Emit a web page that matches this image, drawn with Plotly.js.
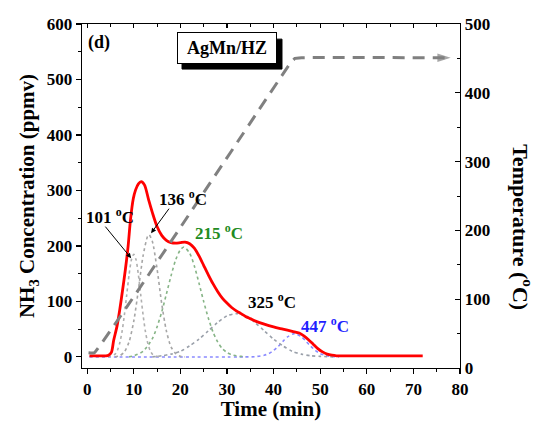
<!DOCTYPE html>
<html>
<head>
<meta charset="utf-8">
<script src="https://cdn.plot.ly/plotly-3.0.1.min.js"></script>
<style>html,body{margin:0;padding:0;background:#fff;}#chart{width:541px;height:421px;}</style>
</head>
<body>
<div id="chart"></div>
<script>
// Total NH3 desorption signal (ppmv) vs time (min)
var timeTotal = [0.5, 2, 4, 4.6, 5.2, 5.7, 6.4, 7, 7.6, 8.2, 8.8, 9.3, 9.9, 10.4, 11, 11.6, 12.3, 13.2, 14, 15, 16, 17, 18, 19, 20, 21, 22, 23, 24, 25, 26, 27, 28, 29, 30, 31, 32, 33, 34, 35, 36, 38, 40, 42, 44, 45.5, 46.5, 47.5, 48.5, 49.5, 50.5, 51.5, 52.5, 53.5, 56, 60, 65, 72];
var nh3Total = [2, 2, 2, 3, 8, 30, 55, 85, 120, 157, 200, 247, 285, 301, 312, 316, 310, 283, 260, 235, 219, 210, 206, 205, 206, 207, 204, 196, 182, 165, 148, 132, 118, 106, 97, 89, 83, 78, 73, 69, 65, 59, 54, 50, 46, 43, 38, 31, 23, 15, 9, 5, 3, 2, 2, 2, 2, 2];

// Deconvoluted peaks
var timePeak101 = [4.5, 5, 6, 6.5, 7, 7.5, 8, 8.5, 9, 9.5, 10, 10.5, 11, 11.5, 12, 12.5, 13, 13.5, 14, 15, 16];
var nh3Peak101 = [0, 1, 5, 12, 25, 46, 76, 112, 148, 175, 185, 175, 148, 112, 76, 46, 25, 12, 5, 1, 0];
var timePeak136 = [6, 7, 8, 9, 10, 11, 12, 13, 13.3, 14, 15, 16, 17, 18, 19, 20, 21];
var nh3Peak136 = [0, 2, 9, 27, 64, 121, 182, 218, 220, 208, 159, 96, 47, 18, 6, 1, 0];
var timePeak215 = [9, 10, 12, 14, 15, 16, 17, 18, 19, 20, 20.8, 22, 23, 24, 25, 26, 27, 28, 29, 30, 31, 32, 33, 34];
var nh3Peak215 = [0, 2, 10, 33, 54, 81, 113, 146, 175, 193, 198, 187, 164, 133, 100, 70, 45, 27, 15, 8, 4, 2, 1, 0];
var timePeak325 = [14, 16, 18, 20, 22, 24, 26, 28, 30, 32, 34, 36, 38, 40, 42, 44, 46, 48, 50, 53];
var nh3Peak325 = [0, 2, 5, 10, 20, 32, 47, 62, 74, 78, 74, 62, 47, 32, 20, 10, 5, 2, 1, 0];
var timePeak447 = [0.5, 34, 36, 38, 39, 40, 41, 42, 43, 44, 44.5, 45, 46, 47, 48, 49, 50, 51, 52, 53, 54];
var nh3Peak447 = [0, 0, 0.4, 3, 6, 11.5, 19, 28, 36, 41, 42, 41, 36, 28, 19, 11.5, 6, 3, 1, 0.4, 0];

// Temperature programme (°C)
var timeTemp = [0.3, 1.5, 43.5, 44.6, 46, 78];
var tempValues = [22, 22, 442, 450, 451, 451];

// Labels
var peakLabels = ['101 <sup>o</sup>C', '136 <sup>o</sup>C', '215 <sup>o</sup>C', '325 <sup>o</sup>C', '447 <sup>o</sup>C'];
var sampleLabel = 'AgMn/HZ';
var panelLabel = '(d)';

var FONT = 'Liberation Serif, Times New Roman, serif';
var dotted = function (x, y, color) {
  return {x: x, y: y, type: 'scatter', mode: 'lines', xaxis: 'x', yaxis: 'y',
    line: {color: color, width: 1.6, dash: 'dot', shape: 'spline', smoothing: 0.7},
    hoverinfo: 'skip', showlegend: false};
};

var tempSizes = tempValues.map(function (v, i) { return i === tempValues.length - 1 ? 14 : 0; });
var tempSymbols = tempValues.map(function (v, i) { return i === tempValues.length - 1 ? 'arrow' : 'circle'; });

var data = [
  dotted(timePeak447, nh3Peak447, '#8a8aff'),
  dotted(timePeak325, nh3Peak325, '#9aa0aa'),
  dotted(timePeak215, nh3Peak215, '#86b486'),
  dotted(timePeak136, nh3Peak136, '#a6a6a6'),
  dotted(timePeak101, nh3Peak101, '#b0b0b0'),
  {x: timeTemp, y: tempValues, type: 'scatter', mode: 'lines+markers', xaxis: 'x', yaxis: 'y2',
    line: {color: '#808080', width: 3, dash: '12px,8px', shape: 'spline', smoothing: 0.3},
    marker: {symbol: tempSymbols, size: tempSizes, color: '#808080', angleref: 'previous', line: {width: 0}},
    showlegend: false, hoverinfo: 'skip'},
  {x: timeTotal, y: nh3Total, type: 'scatter', mode: 'lines', xaxis: 'x', yaxis: 'y',
    line: {color: '#ff0000', width: 2.8, shape: 'spline', smoothing: 0.8},
    showlegend: false},
  {x: [], y: [], type: 'scatter', mode: 'lines', xaxis: 'x2', yaxis: 'y', showlegend: false, hoverinfo: 'skip'}
];

var axisCommon = {showline: true, linecolor: 'black', linewidth: 1.3, showgrid: false, zeroline: false,
  tickcolor: 'black', tickwidth: 1.2, tickfont: {family: FONT, size: 17, color: 'black', weight: 'bold'}};

var layout = {
  width: 541, height: 421,
  margin: {l: 82, r: 81, t: 24, b: 53},
  paper_bgcolor: 'white', plot_bgcolor: 'white',
  font: {family: FONT, size: 17, color: 'black', weight: 'bold'},
  showlegend: false,
  xaxis: Object.assign({}, axisCommon, {
    range: [-1.1, 80], tick0: 0, dtick: 10, ticks: 'outside', ticklen: 5,
    minor: {dtick: 5, ticks: 'outside', ticklen: 3, tickwidth: 1, tickcolor: 'black'},
    title: {text: '<b>Time (min)</b>', font: {family: FONT, size: 21, color: 'black'}, standoff: 3}
  }),
  xaxis2: Object.assign({}, axisCommon, {
    range: [-1.1, 80], overlaying: 'x', side: 'top', tick0: 0, dtick: 10, ticks: 'inside', ticklen: 4,
    showticklabels: false,
    minor: {dtick: 5, ticks: 'inside', ticklen: 3, tickwidth: 1, tickcolor: 'black'}
  }),
  yaxis: Object.assign({}, axisCommon, {
    range: [-20, 600], tick0: 0, dtick: 100, ticks: 'outside', ticklen: 5,
    minor: {dtick: 50, ticks: 'outside', ticklen: 3, tickwidth: 1, tickcolor: 'black'},
    title: {text: '<b>NH<sub>3</sub> Concentration (ppmv)</b>', font: {family: FONT, size: 21, color: 'black'}, standoff: 6}
  }),
  yaxis2: Object.assign({}, axisCommon, {
    range: [0, 500], overlaying: 'y', side: 'right', tick0: 0, dtick: 100, ticks: 'inside', ticklen: 5,
    minor: {dtick: 50, ticks: 'inside', ticklen: 3, tickwidth: 1, tickcolor: 'black'}
  }),
  shapes: [
    {type: 'rect', xref: 'paper', yref: 'paper', x0: 0.2646, x1: 0.5291, y0: 0.869, y1: 0.956,
      fillcolor: 'black', line: {color: 'black', width: 1}, layer: 'above'}
  ],
  annotations: [
    {xref: 'paper', yref: 'paper', x: 1.166, y: 0.41, xanchor: 'center', yanchor: 'middle',
      text: '<b>Temperature (<sup>o</sup>C)</b>', textangle: 90,
      showarrow: false, font: {family: FONT, size: 22, color: 'black'}},
    {x: 2.6, y: 566, xref: 'x', yref: 'y', text: '<b>' + panelLabel + '</b>', showarrow: false,
      font: {family: FONT, size: 18, color: 'black'}},
    {xref: 'paper', yref: 'paper', x: 0.3836, y: 0.9302, xanchor: 'center', yanchor: 'middle',
      text: '<b>' + sampleLabel + '</b>', showarrow: false, width: 90, height: 22,
      bgcolor: 'white', bordercolor: 'black', borderwidth: 1, borderpad: 4,
      font: {family: FONT, size: 18, color: 'black'}},
    {x: 4.9, y: 254, xref: 'x', yref: 'y', text: '<b>' + peakLabels[0] + '</b>', showarrow: false,
      font: {family: FONT, size: 17, color: 'black'}},
    {x: 9.44, y: 178, xref: 'x', yref: 'y', text: '', showarrow: true, ax: -27, ay: -33,
      arrowhead: 2, arrowsize: 1, arrowwidth: 1, arrowcolor: 'black'},
    {x: 20.6, y: 286, xref: 'x', yref: 'y', text: '<b>' + peakLabels[1] + '</b>', showarrow: false,
      font: {family: FONT, size: 17, color: 'black'}},
    {x: 13.73, y: 223, xref: 'x', yref: 'y', text: '', showarrow: true, ax: 19, ay: -26,
      arrowhead: 2, arrowsize: 1, arrowwidth: 1, arrowcolor: 'black'},
    {x: 28.3, y: 225, xref: 'x', yref: 'y', text: '<b>' + peakLabels[2] + '</b>', showarrow: false,
      font: {family: FONT, size: 17, color: '#228b22'}},
    {x: 39.7, y: 101, xref: 'x', yref: 'y', text: '<b>' + peakLabels[3] + '</b>', showarrow: false,
      font: {family: FONT, size: 17, color: 'black'}},
    {x: 51.0, y: 58, xref: 'x', yref: 'y', text: '<b>' + peakLabels[4] + '</b>', showarrow: false,
      font: {family: FONT, size: 17, color: '#1f1fff'}}
  ]
};

Plotly.newPlot('chart', data, layout, {displayModeBar: false, staticPlot: true});
</script>
</body>
</html>
